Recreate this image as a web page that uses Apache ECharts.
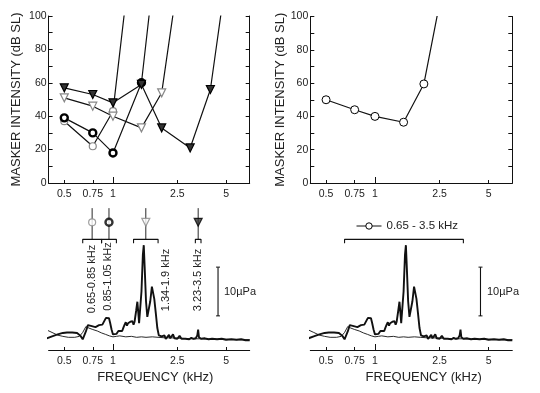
<!DOCTYPE html>
<html><head><meta charset="utf-8">
<script src="https://cdn.jsdelivr.net/npm/echarts@6/dist/echarts.min.js"></script>
<style>html,body{margin:0;padding:0;background:#fff}#c{width:540px;height:393px}</style>
</head><body><div id="c"></div>
<script>
// ---------------- data ----------------
const tickFreqs = [0.5, 0.75, 1, 2.5, 5];
const tickLabels = ['0.5', '0.75', '1', '2.5', '5'];
const majorTickFreqs = [1];

// noise bands (left panel)
const bandNames = ['0.65-0.85 kHz', '0.85-1.05 kHz', '1.34-1.9 kHz', '3.23-3.5 kHz'];
const bandLo = [0.65, 0.85, 1.34, 3.23];
const bandHi = [0.85, 1.05, 1.9, 3.5];
// wide band (right panel)
const wideName = '0.65 - 3.5 kHz';
const wideLo = 0.65, wideHi = 3.5;

// masker intensity (dB SL) vs masker frequency (kHz); last points run off the top
const maskA_f = [0.5, 0.75, 1, 1.25];                 // open circle, 0.65-0.85
const maskA_v = [37, 22, 43, 124];
const maskB_f = [0.5, 0.75, 1, 1.5, 2];               // dark circle, 0.85-1.05
const maskB_v = [39, 30, 18, 60, 167];
const maskC_f = [0.5, 0.75, 1, 1.5, 2, 2.5];          // open triangle, 1.34-1.9
const maskC_v = [51, 46, 40, 33, 54, 119];
const maskD_f = [0.5, 0.75, 1, 1.5, 2, 3, 4, 5];      // dark triangle, 3.23-3.5
const maskD_v = [57, 53, 48, 59, 33, 21, 56, 123];
const maskW_f = [0.5, 0.75, 1, 1.5, 2, 2.5];          // wide band
const maskW_v = [50, 44, 40, 36.5, 59.5, 108];

// spectra (µPa), thick = stimulus, thin = background
const specThickF = [0.39,0.42,0.455,0.49,0.52,0.56,0.6,0.63,0.65,0.68,0.70,0.72,0.74,0.76,0.78,0.80,0.82,0.84,0.86,0.88,0.905,0.925,0.945,0.96,0.98,1.0,1.02,1.05,1.08,1.11,1.14,1.16,1.18,1.2,1.22,1.24,1.26,1.28,1.30,1.32,1.34,1.36,1.39,1.415,1.435,1.45,1.47,1.50,1.53,1.55,1.57,1.60,1.63,1.66,1.70,1.74,1.77,1.80,1.84,1.88,1.92,1.96,2.0,2.04,2.08,2.12,2.17,2.22,2.26,2.3,2.35,2.4,2.45,2.5,2.58,2.65,2.72,2.8,2.88,2.96,3.05,3.15,3.25,3.32,3.36,3.40,3.5,3.7,3.9,4.1,4.4,4.7,5.0,5.4,5.8,6.2,6.6,7.0];
const specThickV = [2.4,2.8,3.2,3.5,3.6,3.6,3.5,2.9,2.2,3.8,5.1,4.7,4.9,5.0,4.7,4.8,5.1,5.0,5.2,5.6,6.6,7.0,6.5,5.6,4.2,3.2,2.8,3.3,3.9,4.3,3.9,4.6,5.2,5.7,5.0,5.5,5.3,5.8,5.5,5.9,5.2,5.8,8.0,9.9,7.5,5.5,5.8,12.0,19.5,21.5,17.0,10.0,6.8,6.6,10.0,13.0,13.1,10.5,7.5,4.5,3.0,2.6,2.8,2.4,3.0,2.3,2.5,3.1,2.4,2.6,3.2,2.4,2.7,2.3,2.9,2.3,2.6,2.3,2.6,2.2,2.5,2.3,2.4,3.0,4.2,2.6,2.3,2.4,2.2,2.3,2.2,2.3,2.1,2.2,2.1,2.2,2.0,2.0];
const specThinF = [0.39,0.42,0.455,0.49,0.53,0.58,0.62,0.65,0.68,0.71,0.75,0.80,0.85,0.9,0.95,1.0,1.05,1.1,1.2,1.3,1.4,1.5,1.6,1.75,1.9,2.1,2.3,2.6,3.0,3.5,4.0,5.0,6.0,7.0];
const specThinV = [4.1,3.6,3.05,2.8,2.6,2.6,2.8,3.6,4.8,4.5,4.2,3.9,3.5,3.2,2.9,2.7,2.8,2.9,2.7,2.8,2.6,2.7,2.6,2.7,2.6,2.5,2.5,2.4,2.3,2.3,2.2,2.2,2.1,2.1];
const scaleBarUPa = 10;

// ---------------- helpers / layout ----------------
const lg = Math.log10;
const XMIN = lg(0.4), XMAX = lg(7);
const FONT = '"Liberation Sans", Arial, sans-serif';
const INK = '#111';
const pairs = (fs, vs, ymax) => fs.map((f, i) => vs[i] > ymax ? {value: [lg(f), vs[i]], symbol: 'none'} : [lg(f), vs[i]]);
const fmt = v => { const i = tickFreqs.findIndex(f => Math.abs(lg(f) - v) < 1e-6); return i >= 0 ? tickLabels[i] : ''; };

const SPEC_MAX = 150 / 4.875;         // bottom grid scale (µPa)
const STEM_TOP = 29.1, MARK_Y = 26.2, BR_Y = 22.7, BR_END = 21.9;
const BAR_F = 4.46, BAR_LO = 7;

const grids = [
  {left: 48.6, top: 16, width: 201.1, height: 167},
  {left: 310.3, top: 16.5, width: 202, height: 166.5},
  {left: 48.6, top: 200, width: 201.1, height: 150},
  {left: 310.3, top: 200, width: 202, height: 150}
].map(g => Object.assign({outerBoundsMode: 'none', containLabel: false}, g));

function xMain(gi) {
  return {type: 'value', gridIndex: gi, position: 'bottom', min: XMIN, max: XMAX,
    axisLine: {show: true, onZero: false, lineStyle: {color: INK, width: 1}},
    axisTick: {show: true, inside: true, length: 3, customValues: tickFreqs.map(lg), lineStyle: {color: INK}},
    axisLabel: {show: true, margin: 6, customValues: tickFreqs.map(lg), formatter: fmt, fontFamily: FONT, fontSize: 10.5, color: '#222'},
    splitLine: {show: false}};
}
function xMajor(gi) {
  return {type: 'value', gridIndex: gi, position: 'bottom', min: XMIN, max: XMAX,
    axisLine: {show: false, onZero: false}, axisLabel: {show: false}, splitLine: {show: false},
    axisTick: {show: true, inside: true, length: 6, customValues: majorTickFreqs.map(lg), lineStyle: {color: INK}}};
}
function yLeft(gi, gap) {
  return {type: 'value', gridIndex: gi, position: 'left', min: 0, max: 100, interval: 20,
    name: 'MASKER INTENSITY (dB SL)', nameLocation: 'middle', nameGap: gap, nameRotate: 90,
    nameTextStyle: {fontFamily: FONT, fontSize: 13, color: '#222'},
    axisLine: {show: true, onZero: false, lineStyle: {color: INK}},
    axisTick: {show: true, inside: true, length: 4, lineStyle: {color: INK}},
    minorTick: {show: true, splitNumber: 2, length: 4, lineStyle: {color: INK}},
    axisLabel: {margin: 2, fontFamily: FONT, fontSize: 10.5, color: '#222'},
    splitLine: {show: false}};
}
function yRight(gi) {
  return {type: 'value', gridIndex: gi, position: 'right', min: 0, max: 100, interval: 20,
    axisLine: {show: true, onZero: false, lineStyle: {color: INK}},
    axisTick: {show: true, inside: true, length: 4, lineStyle: {color: INK}},
    minorTick: {show: true, splitNumber: 2, length: 4, lineStyle: {color: INK}},
    axisLabel: {show: false}, splitLine: {show: false}};
}
function ySpec(gi) {
  return {type: 'value', gridIndex: gi, min: 0, max: SPEC_MAX, show: false, axisLine: {onZero: false}};
}

const mkStyles = [
  {symbol: 'circle', symbolSize: 7, itemStyle: {color: '#fff', borderColor: '#888', borderWidth: 1.2}},
  {symbol: 'circle', symbolSize: 7, itemStyle: {color: '#fff', borderColor: '#000', borderWidth: 2.4}},
  {symbol: 'triangle', symbolRotate: 180, symbolSize: 8, itemStyle: {color: '#fff', borderColor: '#888', borderWidth: 1.2}},
  {symbol: 'triangle', symbolRotate: 180, symbolSize: 8, itemStyle: {color: '#333', borderColor: '#000', borderWidth: 1.2}}
];

function maskSeries(name, fs, vs, st, xi, yi) {
  return Object.assign({type: 'line', name: name, xAxisIndex: xi, yAxisIndex: yi, clip: true,
    data: pairs(fs, vs, 100), showSymbol: true, lineStyle: {color: INK, width: 1.2}, z: 3}, st,
    {itemStyle: st.itemStyle});
}
function lineSer(data, xi, yi, width, extra) {
  return Object.assign({type: 'line', xAxisIndex: xi, yAxisIndex: yi, data: data, symbol: 'none',
    lineStyle: {color: INK, width: width}, silent: true, animation: false}, extra || {});
}

const series = [];
// top-left masking patterns
const maskSets = [[maskA_f, maskA_v], [maskB_f, maskB_v], [maskC_f, maskC_v], [maskD_f, maskD_v]];
maskSets.forEach((s, i) => series.push(maskSeries(bandNames[i], s[0], s[1], mkStyles[i], 0, 0)));
// top-right wide band
series.push(maskSeries(wideName, maskW_f, maskW_v,
  {symbol: 'circle', symbolSize: 8, itemStyle: {color: '#fff', borderColor: '#000', borderWidth: 1}}, 2, 2));

// spectra in both bottom panels
[[4, 4], [6, 5]].forEach(([xi, yi]) => {
  series.push(lineSer(specThinF.map((f, i) => [lg(f), specThinV[i]]), xi, yi, 0.9));
  series.push(lineSer(specThickF.map((f, i) => [lg(f), specThickV[i]]), xi, yi, 1.9));
  series.push(lineSer([[lg(BAR_F), BAR_LO], [lg(BAR_F), BAR_LO + scaleBarUPa]], xi, yi, 1.1,
    {symbol: 'rect', symbolSize: [4, 1], showSymbol: true, itemStyle: {color: INK}}));
});

// left-bottom band annotations
bandLo.forEach((lo, i) => {
  const hi = bandHi[i], c = Math.sqrt(lo * hi);
  series.push(lineSer([[lg(lo), BR_END], [lg(lo), BR_Y], [lg(hi), BR_Y], [lg(hi), BR_END]], 4, 4, 1.1));
  series.push(lineSer([[lg(c), STEM_TOP], [lg(c), BR_Y]], 4, 4, 0.9));
  series.push(Object.assign({type: 'scatter', xAxisIndex: 4, yAxisIndex: 4, data: [[lg(c), MARK_Y]], z: 4, silent: true}, mkStyles[i]));
});
// right-bottom bracket
series.push(lineSer([[lg(wideLo), BR_END], [lg(wideLo), BR_Y], [lg(wideHi), BR_Y], [lg(wideHi), BR_END]], 6, 5, 1.1));

const txt = (x, y, t, size, rot) => ({type: 'text', x: x, y: y, rotation: rot || 0, silent: true,
  style: {text: t, fontFamily: FONT, fontSize: size, fill: '#222', align: 'center', verticalAlign: 'middle'}});

const option = {
  backgroundColor: '#fff',
  animation: false,
  grid: grids,
  xAxis: [xMain(0), xMajor(0), xMain(1), xMajor(1), xMain(2), xMajor(2), xMain(3), xMajor(3)],
  yAxis: [yLeft(0, 26), yRight(0), yLeft(1, 18), yRight(1), ySpec(2), ySpec(3)],
  legend: {data: [wideName], left: 356, top: 220, padding: 0, itemWidth: 25, itemHeight: 8, itemGap: 4,
    itemStyle: {borderWidth: 1, borderColor: '#000', color: '#fff'}, lineStyle: {width: 1},
    textStyle: {fontFamily: FONT, fontSize: 11.5, color: '#222'}, selectedMode: false},
  series: series,
  graphic: [
    txt(91.8, 279, bandNames[0], 11, Math.PI / 2),
    txt(107.5, 276.5, bandNames[1], 11, Math.PI / 2),
    txt(165.5, 280, bandNames[2], 11, Math.PI / 2),
    txt(198.2, 280, bandNames[3], 11, Math.PI / 2),
    txt(240, 292, '10µPa', 11),
    txt(503, 292, '10µPa', 11),
    txt(155.3, 377, 'FREQUENCY (kHz)', 13),
    txt(423.7, 377, 'FREQUENCY (kHz)', 13)
  ]
};
echarts.init(document.getElementById('c'), null, {renderer: 'canvas'}).setOption(option);
</script>
</body></html>
